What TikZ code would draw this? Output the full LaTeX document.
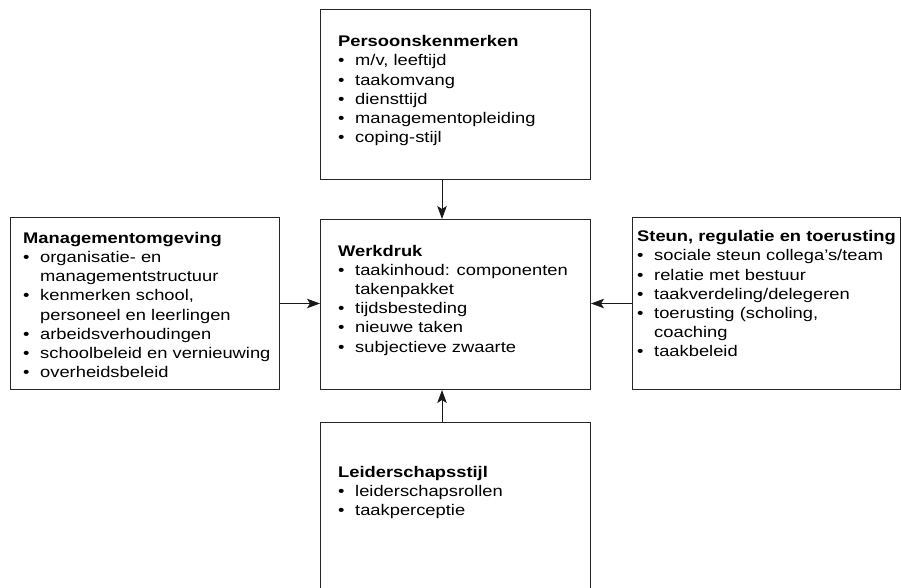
\documentclass[tikz,border=0pt]{standalone}
\usepackage{fontspec}
\setmainfont{Liberation Sans}[FakeStretch=1.19]
\usetikzlibrary{arrows.meta}
\newcommand{\bl}{\makebox[17pt][l]{\textbullet}}
\newcommand{\hd}[1]{\multicolumn{2}{@{}l@{}}{\textbf{#1}}}
\tikzset{
  box/.style={draw=black!85, line width=1pt, inner sep=0pt},
  txt/.style={anchor=base west, inner sep=0pt, font=\fontsize{15.4}{19.2}\selectfont},
  conn/.style={line width=0.9pt, draw=black!90, -{Stealth[length=13pt,width=9.5pt,inset=3pt]}}
}
\begin{document}
\begin{tikzpicture}[x=1pt,y=-1pt]
\useasboundingbox (0,0) rectangle (901,587);
\clip (0,0) rectangle (901,587);
% boxes
\node[box, minimum width=270pt, minimum height=170.5pt, anchor=north west] (top) at (320,8.5) {};
\node[box, minimum width=270pt, minimum height=170pt, anchor=north west] (mid) at (320,219) {};
\node[box, minimum width=269pt, minimum height=172pt, anchor=north west] (left) at (10,217) {};
\node[box, minimum width=267.5pt, minimum height=172pt, anchor=north west] (right) at (632,217) {};
\node[box, minimum width=270pt, minimum height=200pt, anchor=north west] (bot) at (320,422) {};
% texts
\node[txt] (ttop) at (338,46.7) {\begin{tabular}[t]{@{}l@{}l@{}}
\hd{Persoonskenmerken}\\
\bl & m/v, leeftijd\\
\bl & taakomvang\\
\bl & diensttijd\\
\bl & managementopleiding\\
\bl & coping-stijl
\end{tabular}};
\node[txt] (tleft) at (23,243.3) {\begin{tabular}[t]{@{}l@{}l@{}}
\hd{Managementomgeving}\\
\bl & organisatie- en\\
 & managementstructuur\\
\bl & kenmerken school,\\
 & personeel en leerlingen\\
\bl & arbeidsverhoudingen\\
\bl & schoolbeleid en vernieuwing\\
\bl & overheidsbeleid
\end{tabular}};
\node[txt] (tmid) at (338,256) {\begin{tabular}[t]{@{}l@{}l@{}}
\hd{Werkdruk}\\
\bl & taakinhoud: componenten\\
 & takenpakket\\
\bl & tijdsbesteding\\
\bl & nieuwe taken\\
\bl & subjectieve zwaarte
\end{tabular}};
\node[txt] (tright) at (637,241.7) {\begin{tabular}[t]{@{}l@{}l@{}}
\hd{Steun, regulatie en toerusting}\\
\bl & sociale steun collega’s/team\\
\bl & relatie met bestuur\\
\bl & taakverdeling/delegeren\\
\bl & toerusting (scholing,\\
 & coaching\\
\bl & taakbeleid
\end{tabular}};
\node[txt] (tbot) at (338,477.3) {\begin{tabular}[t]{@{}l@{}l@{}}
\hd{Leiderschapsstijl}\\
\bl & leiderschapsrollen\\
\bl & taakperceptie
\end{tabular}};
% connectors
\coordinate (ax) at (442,0);
\coordinate (ay) at (0,303.5);
\draw[conn] (top.south -| ax) -- (mid.north -| ax);
\draw[conn] (bot.north -| ax) -- (mid.south -| ax);
\draw[conn] (left.east |- ay) -- (mid.west |- ay);
\draw[conn] (right.west |- ay) -- (mid.east |- ay);
\end{tikzpicture}
\end{document}
